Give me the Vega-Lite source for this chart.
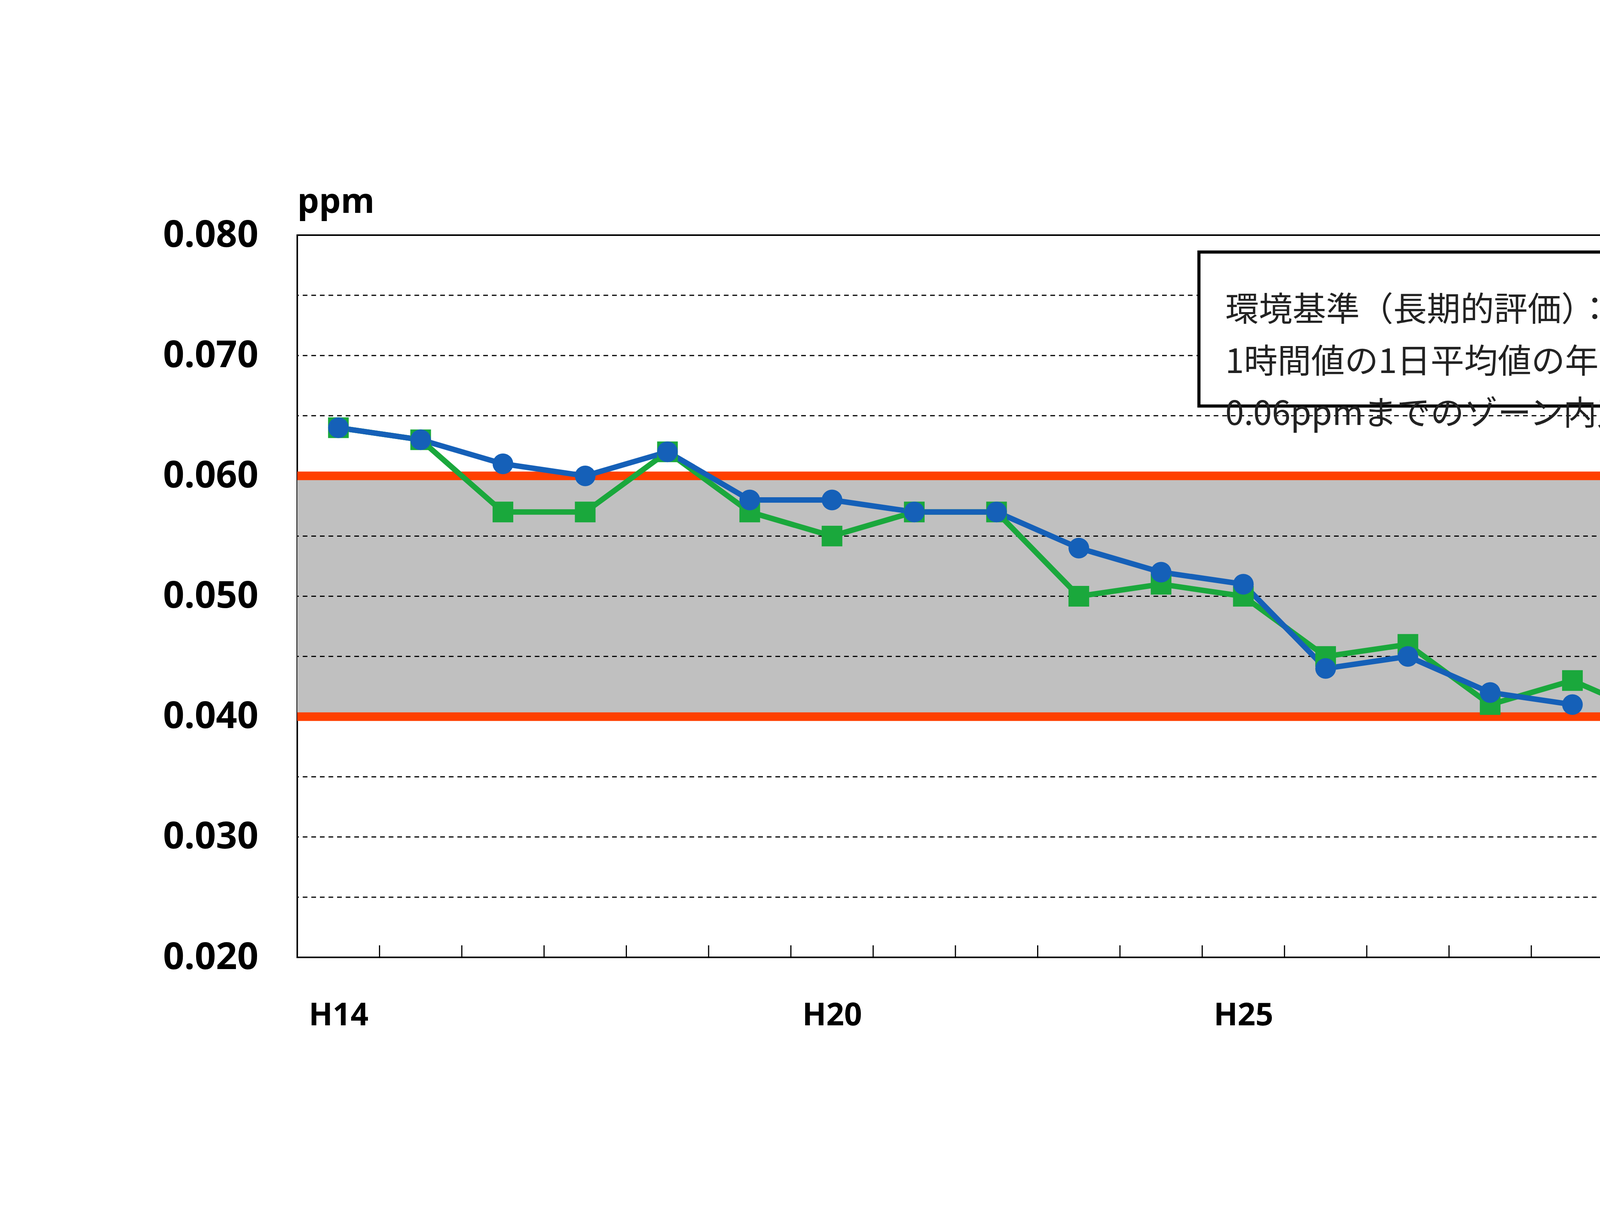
{
  "$schema": "https://vega.github.io/schema/vega-lite/v6.json",
  "width": 5643,
  "height": 3149,
  "autosize": {"type": "fit", "contains": "padding"},
  "padding": {"left": 416, "top": 474, "right": 27, "bottom": 509},
  "background": "white",
  "config": {
    "view": {"stroke": "black", "strokeWidth": 4},
    "font": "Noto Sans"
  },
  "data": {"values": [{}]},
  "datasets": {
    "series": [
      {"i": 0, "series": "西宮インター交差点局", "value": 0.064},
      {"i": 1, "series": "西宮インター交差点局", "value": 0.063},
      {"i": 2, "series": "西宮インター交差点局", "value": 0.057},
      {"i": 3, "series": "西宮インター交差点局", "value": 0.057},
      {"i": 4, "series": "西宮インター交差点局", "value": 0.062},
      {"i": 5, "series": "西宮インター交差点局", "value": 0.057},
      {"i": 6, "series": "西宮インター交差点局", "value": 0.055},
      {"i": 7, "series": "西宮インター交差点局", "value": 0.057},
      {"i": 8, "series": "西宮インター交差点局", "value": 0.057},
      {"i": 9, "series": "西宮インター交差点局", "value": 0.050},
      {"i": 10, "series": "西宮インター交差点局", "value": 0.051},
      {"i": 11, "series": "西宮インター交差点局", "value": 0.050},
      {"i": 12, "series": "西宮インター交差点局", "value": 0.045},
      {"i": 13, "series": "西宮インター交差点局", "value": 0.046},
      {"i": 14, "series": "西宮インター交差点局", "value": 0.041},
      {"i": 15, "series": "西宮インター交差点局", "value": 0.043},
      {"i": 16, "series": "西宮インター交差点局", "value": 0.040},
      {"i": 17, "series": "西宮インター交差点局", "value": 0.038},
      {"i": 18, "series": "西宮インター交差点局", "value": 0.037},
      {"i": 19, "series": "西宮インター交差点局", "value": 0.034},
      {"i": 20, "series": "西宮インター交差点局", "value": 0.034},
      {"i": 21, "series": "西宮インター交差点局", "value": 0.034},
      {"i": 22, "series": "西宮インター交差点局", "value": 0.031},
      {"i": 0, "series": "西宮本町交差点局", "value": 0.064},
      {"i": 1, "series": "西宮本町交差点局", "value": 0.063},
      {"i": 2, "series": "西宮本町交差点局", "value": 0.061},
      {"i": 3, "series": "西宮本町交差点局", "value": 0.060},
      {"i": 4, "series": "西宮本町交差点局", "value": 0.062},
      {"i": 5, "series": "西宮本町交差点局", "value": 0.058},
      {"i": 6, "series": "西宮本町交差点局", "value": 0.058},
      {"i": 7, "series": "西宮本町交差点局", "value": 0.057},
      {"i": 8, "series": "西宮本町交差点局", "value": 0.057},
      {"i": 9, "series": "西宮本町交差点局", "value": 0.054},
      {"i": 10, "series": "西宮本町交差点局", "value": 0.052},
      {"i": 11, "series": "西宮本町交差点局", "value": 0.051},
      {"i": 12, "series": "西宮本町交差点局", "value": 0.044},
      {"i": 13, "series": "西宮本町交差点局", "value": 0.045},
      {"i": 14, "series": "西宮本町交差点局", "value": 0.042},
      {"i": 15, "series": "西宮本町交差点局", "value": 0.041}
    ],
    "grid": [
      {"y": 0.025}, {"y": 0.030}, {"y": 0.035}, {"y": 0.045}, {"y": 0.050},
      {"y": 0.055}, {"y": 0.065}, {"y": 0.070}, {"y": 0.075}
    ],
    "ticks": [
      {"x": 0.5}, {"x": 1.5}, {"x": 2.5}, {"x": 3.5}, {"x": 4.5}, {"x": 5.5},
      {"x": 6.5}, {"x": 7.5}, {"x": 8.5}, {"x": 9.5}, {"x": 10.5}, {"x": 11.5},
      {"x": 12.5}, {"x": 13.5}, {"x": 14.5}, {"x": 15.5}, {"x": 16.5}, {"x": 17.5},
      {"x": 18.5}, {"x": 19.5}, {"x": 20.5}, {"x": 21.5}
    ]
  },
  "layer": [
    {
      "mark": {"type": "rect", "fill": "#c0c0c0"},
      "encoding": {
        "y": {"datum": 0.04, "type": "quantitative", "scale": {"domain": [0.02, 0.08]},
          "axis": {"values": [0.02, 0.03, 0.04, 0.05, 0.06, 0.07, 0.08], "format": ".3f",
            "title": "ppm", "titleAngle": 0, "titleAlign": "left", "titleBaseline": "bottom",
            "titleX": 0, "titleY": -40, "titleFontSize": 88, "titleFontWeight": "bold",
            "labelFontSize": 95, "labelFontWeight": "bold", "labelPadding": 100, "labelLimit": 1000,
            "ticks": false, "domain": false, "grid": false, "labelColor": "black"}},
        "y2": {"datum": 0.06}
      }
    },
    {
      "data": {"name": "grid"},
      "mark": {"type": "rule", "color": "black", "strokeWidth": 3, "strokeDash": [12, 10]},
      "encoding": {"y": {"field": "y", "type": "quantitative"}}
    },
    {
      "data": {"name": "ticks"},
      "mark": {"type": "rule", "color": "black", "strokeWidth": 3},
      "encoding": {
        "x": {"field": "x", "type": "quantitative"},
        "y": {"datum": 0.02, "type": "quantitative"},
        "y2": {"datum": 0.021}
      }
    },
    {
      "mark": {"type": "rule", "color": "#ff4000", "strokeWidth": 22},
      "encoding": {"y": {"datum": 0.06, "type": "quantitative"}}
    },
    {
      "mark": {"type": "rule", "color": "#ff4000", "strokeWidth": 22},
      "encoding": {"y": {"datum": 0.04, "type": "quantitative"}}
    },
    {
      "data": {"name": "series"},
      "mark": {"type": "line", "strokeWidth": 14},
      "encoding": {
        "x": {"field": "i", "type": "quantitative", "scale": {"domain": [-0.5, 22.5], "nice": false},
          "axis": {"values": [0, 6, 11, 16, 22], "title": null, "ticks": false, "domain": false, "grid": false,
            "labelFontSize": 80, "labelFontWeight": "bold", "labelPadding": 110, "labelColor": "black",
            "labelExpr": "datum.value == 0 ? 'H14' : datum.value == 6 ? 'H20' : datum.value == 11 ? 'H25' : datum.value == 16 ? 'H30' : 'R6'"}},
        "y": {"field": "value", "type": "quantitative"},
        "color": {"field": "series", "type": "nominal", "legend": null,
          "scale": {"domain": ["西宮インター交差点局", "西宮本町交差点局"], "range": ["#1aa83c", "#1560b8"]}},
        "order": {"field": "i"}
      }
    },
    {
      "data": {"name": "series"},
      "mark": {"type": "point", "filled": true, "opacity": 1},
      "encoding": {
        "x": {"field": "i", "type": "quantitative"},
        "y": {"field": "value", "type": "quantitative"},
        "color": {"field": "series", "type": "nominal",
          "legend": {"orient": "none", "direction": "horizontal", "legendX": 1900, "legendY": -300,
            "title": null, "labelFontSize": 115, "labelFontWeight": "bold", "labelFont": "Noto Sans CJK JP",
            "symbolSize": 5000, "columnPadding": 200, "labelLimit": 2000, "labelColor": "black"}},
        "shape": {"field": "series", "type": "nominal", "legend": null,
          "scale": {"domain": ["西宮インター交差点局", "西宮本町交差点局"], "range": ["square", "circle"]}},
        "size": {"value": 2800}
      }
    },
    {
      "mark": {"type": "rect", "fill": "white", "stroke": "black", "strokeWidth": 8},
      "encoding": {
        "x": {"datum": 10.46, "type": "quantitative"},
        "x2": {"datum": 22.11},
        "y": {"datum": 0.0786, "type": "quantitative"},
        "y2": {"datum": 0.0658}
      }
    },
    {
      "mark": {"type": "text", "align": "left", "baseline": "middle", "fontSize": 86,
        "font": "Noto Sans CJK JP", "lineHeight": 133, "color": "#222"},
      "encoding": {
        "x": {"datum": 10.78, "type": "quantitative"},
        "y": {"datum": 0.0737, "type": "quantitative"},
        "text": {"value": ["環境基準（長期的評価）：", "1時間値の1日平均値の年間98%値が0.04ppmから", "0.06ppmまでのゾーン内又はそれ以下であること。"]}
      }
    }
  ]
}
